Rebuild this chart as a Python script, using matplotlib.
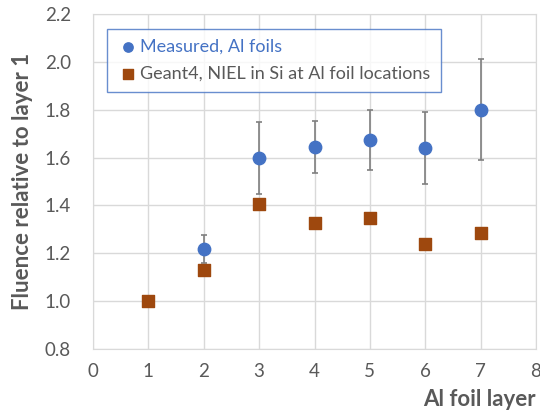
import matplotlib
matplotlib.use("Agg")
import matplotlib.pyplot as plt

layers = [1, 2, 3, 4, 5, 6, 7]
geant4 = [1.000, 1.130, 1.405, 1.325, 1.347, 1.237, 1.286]

meas_layers = [2, 3, 4, 5, 6, 7]
measured = [1.217, 1.597, 1.644, 1.673, 1.639, 1.799]
err_up = [1.276, 1.750, 1.752, 1.799, 1.792, 2.013]
err_lo = [1.158, 1.446, 1.537, 1.549, 1.490, 1.589]

BLUE = "#4472C4"
ORANGE = "#9E480E"
GRAY = "#595959"

plt.rcParams['font.family'] = ['Lato', 'DejaVu Sans']

fig = plt.figure(figsize=(5.4, 4.17), dpi=100)
ax = fig.add_axes([93 / 540, 1 - 349 / 417, 443 / 540, 335 / 417])

yerr = [[m - lo for m, lo in zip(measured, err_lo)],
        [up - m for m, up in zip(measured, err_up)]]
ax.errorbar(meas_layers, measured, yerr=yerr, fmt='none', ecolor='#7f7f7f',
            elinewidth=1.2, capsize=2.5, capthick=1.2, zorder=2)
ax.scatter(meas_layers, measured, s=80, marker='o', color=BLUE,
           label="Measured, Al foils", zorder=3)
ax.scatter(layers, geant4, s=78, marker='s', color=ORANGE,
           label="Geant4, NIEL in Si at Al foil locations", zorder=3)

ax.set_xlim(0, 8)
ax.set_ylim(0.8, 2.2)
ax.set_xticks(range(0, 9))
ax.set_yticks([0.8, 1.0, 1.2, 1.4, 1.6, 1.8, 2.0, 2.2])
ax.set_yticklabels(["%.1f" % v for v in ax.get_yticks()])
ax.grid(True, color='#d9d9d9', linewidth=1)
ax.set_axisbelow(True)
for s in ax.spines.values():
    s.set_color('#d9d9d9')
ax.tick_params(axis='y', length=0, labelsize=13.5, colors=GRAY, pad=16)
ax.tick_params(axis='x', length=0, labelsize=13.5, colors=GRAY, pad=10)

ax.set_ylabel("Fluence relative to layer 1", fontsize=16, fontweight='bold',
              color=GRAY, labelpad=8)
fig.text(536 / 540, 1 - 400 / 417, "Al foil layer", fontsize=16,
         fontweight='bold', color=GRAY, ha='right', va='center')

leg = ax.legend(loc='upper left', bbox_to_anchor=(14 / 443, 1 - 15 / 335),
                frameon=True, fancybox=False, fontsize=13,
                handletextpad=0.1, borderpad=0.55, labelspacing=0.6,
                handlelength=1.2, borderaxespad=0, markerscale=0.75)
leg.get_frame().set_edgecolor(BLUE)
leg.get_frame().set_linewidth(1)
texts = leg.get_texts()
texts[0].set_color(BLUE)
texts[1].set_color(GRAY)

fig.savefig("out.png", dpi=100)
